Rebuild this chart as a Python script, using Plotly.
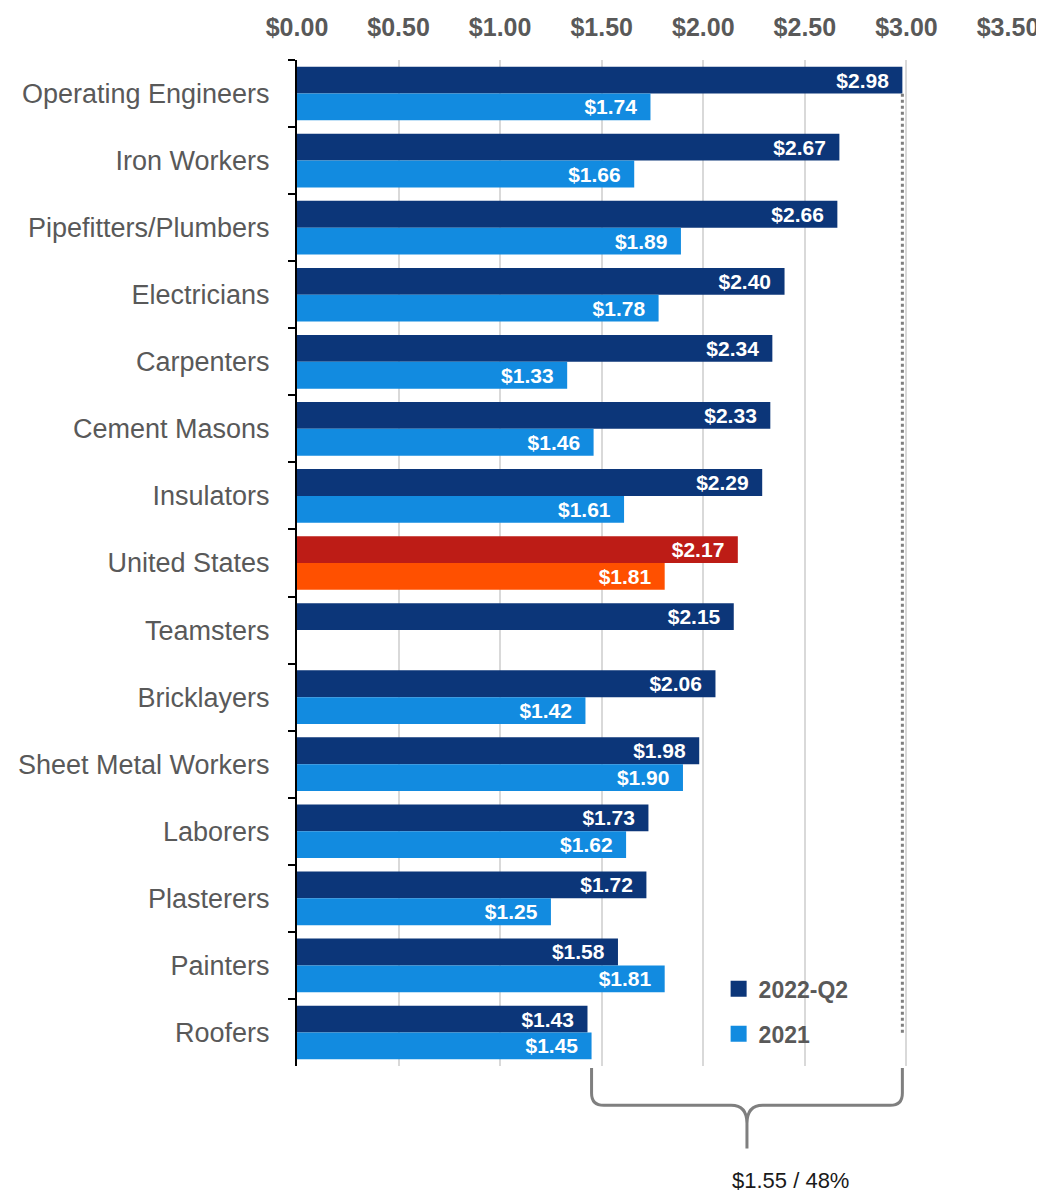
import plotly.graph_objects as go

categories = ["Operating Engineers", "Iron Workers", "Pipefitters/Plumbers", "Electricians",
              "Carpenters", "Cement Masons", "Insulators", "United States", "Teamsters",
              "Bricklayers", "Sheet Metal Workers", "Laborers", "Plasterers", "Painters", "Roofers"]
vals_2022 = [2.98, 2.67, 2.66, 2.40, 2.34, 2.33, 2.29, 2.17, 2.15, 2.06, 1.98, 1.73, 1.72, 1.58, 1.43]
vals_2021 = [1.74, 1.66, 1.89, 1.78, 1.33, 1.46, 1.61, 1.81, None, 1.42, 1.90, 1.62, 1.25, 1.81, 1.45]
x_ticks = [0, 0.5, 1.0, 1.5, 2.0, 2.5, 3.0, 3.5]
brace_label = "$1.55 / 48%"

DARK = "#0C3679"
LIGHT = "#128BE0"
US_DARK = "#BD1C16"
US_LIGHT = "#FF5000"
GRAY = "#595959"

colors_2022 = [US_DARK if c == "United States" else DARK for c in categories]
colors_2021 = [US_LIGHT if c == "United States" else LIGHT for c in categories]

def fmt(v):
    return "" if v is None else f"${v:.2f}\u2002"

label_font = dict(family="Liberation Sans, Arial", size=21, color="white", weight="bold")

fig = go.Figure()
fig.add_trace(go.Bar(
    name="2022-Q2", y=categories, x=vals_2022, orientation="h",
    marker=dict(color=colors_2022, line=dict(width=0)),
    text=[fmt(v) for v in vals_2022], textposition="inside", insidetextanchor="end",
    textfont=label_font, constraintext="none", showlegend=False,
))
fig.add_trace(go.Bar(
    name="2021", y=categories, x=vals_2021, orientation="h",
    marker=dict(color=colors_2021, line=dict(width=0)),
    text=[fmt(v) for v in vals_2021], textposition="inside", insidetextanchor="end",
    textfont=label_font, constraintext="none", showlegend=False,
))
# legend entries (square markers)
for nm, col in [("2022-Q2", DARK), ("2021", LIGHT)]:
    fig.add_trace(go.Scatter(
        name=nm, x=[None], y=[None], mode="markers", legendgroup=nm,
        marker=dict(symbol="square", size=16, color=col), showlegend=True,
    ))

# dotted reference line at max 2022 value
vmax = max(vals_2022)
vmin_end = vals_2021[-1]
fig.add_shape(type="line", xref="x", yref="paper", x0=vmax, x1=vmax, y0=0.033, y1=0.968,
              line=dict(color="#7F7F7F", width=3, dash="dot"))

# brace below chart spanning from vmin_end to vmax
x1, x2 = vmin_end, vmax
xm = (x1 + x2) / 2
h = -0.039
top = -0.002
bot = -0.082
r = 0.06
path = (f"M {x1},{top} L {x1},{h+0.012} Q {x1},{h} {x1+r},{h} "
        f"L {xm-r*1.3},{h} Q {xm},{h} {xm},{h-0.018} L {xm},{bot} "
        f"M {x2},{top} L {x2},{h+0.012} Q {x2},{h} {x2-r},{h} "
        f"L {xm+r*1.3},{h} Q {xm},{h} {xm},{h-0.018}")
fig.add_shape(type="path", xref="x", yref="paper", path=path,
              line=dict(color="#7F7F7F", width=3))

fig.add_annotation(text=brace_label, xref="x", yref="paper", x=2.43, y=-0.1135,
                   showarrow=False, xanchor="center", yanchor="middle",
                   font=dict(family="Liberation Sans, Arial", size=22, color="#1a1a1a"))

fig.update_layout(
    width=1036, height=1185,
    margin=dict(l=289, r=36, t=52, b=127, autoexpand=False),
    paper_bgcolor="white", plot_bgcolor="white",
    barmode="group", bargap=0.2, bargroupgap=0,
    showlegend=True,
    legend=dict(x=0.593, y=0.098, xanchor="left", yanchor="top",
                font=dict(family="Liberation Sans, Arial", size=23, color=GRAY, weight="bold"),
                bgcolor="rgba(0,0,0,0)", itemsizing="trace", tracegroupgap=12,
                traceorder="grouped"),
    xaxis=dict(side="top", range=[0, 3.5], tickvals=x_ticks, tickformat="$.2f",
               showgrid=True, gridcolor="#D9D9D9", gridwidth=2, zeroline=False,
               ticks="", showline=False, ticklabelstandoff=18, automargin=False,
               ticklabeloverflow="allow",
               tickfont=dict(family="Liberation Sans, Arial", size=25, color=GRAY, weight="bold")),
    yaxis=dict(autorange="reversed", type="category", showline=True, linecolor="black", linewidth=2,
               ticks="outside", tickson="boundaries", ticklen=7, tickwidth=2, tickcolor="black",
               showgrid=False, ticklabelstandoff=20, automargin=False,
               tickfont=dict(family="Liberation Sans, Arial", size=27, color=GRAY)),
)

fig.write_html("out.html")
